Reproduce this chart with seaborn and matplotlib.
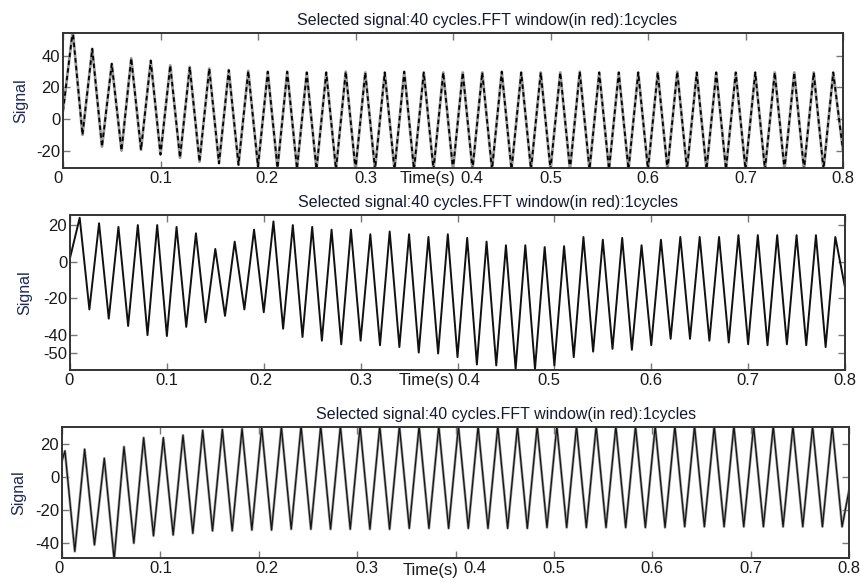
import numpy as np
import pandas as pd
import seaborn as sns
import matplotlib.pyplot as plt
from matplotlib.transforms import ScaledTranslation

# ---------------- data ----------------
title_text = "Selected signal:40 cycles.FFT window(in red):1cycles"
x_ticks = [0, 0.1, 0.2, 0.3, 0.4, 0.5, 0.6, 0.7, 0.8]
x_tick_labels = ["0", "0.1", "0.2", "0.3", "0.4", "0.5", "0.6", "0.7", "0.8"]

# times of local maxima / minima (s)
peak_t_12 = [0.01, 0.03, 0.05, 0.07, 0.09, 0.11, 0.13, 0.15, 0.17, 0.19,
             0.21, 0.23, 0.25, 0.27, 0.29, 0.31, 0.33, 0.35, 0.37, 0.39,
             0.41, 0.43, 0.45, 0.47, 0.49, 0.51, 0.53, 0.55, 0.57, 0.59,
             0.61, 0.63, 0.65, 0.67, 0.69, 0.71, 0.73, 0.75, 0.77, 0.79]
trough_t_12 = [0.02, 0.04, 0.06, 0.08, 0.10, 0.12, 0.14, 0.16, 0.18, 0.20,
               0.22, 0.24, 0.26, 0.28, 0.30, 0.32, 0.34, 0.36, 0.38, 0.40,
               0.42, 0.44, 0.46, 0.48, 0.50, 0.52, 0.54, 0.56, 0.58, 0.60,
               0.62, 0.64, 0.66, 0.68, 0.70, 0.72, 0.74, 0.76, 0.78, 0.80]
peak_t_3 = [0.003, 0.023, 0.043, 0.063, 0.083, 0.103, 0.123, 0.143, 0.163, 0.183,
            0.203, 0.223, 0.243, 0.263, 0.283, 0.303, 0.323, 0.343, 0.363, 0.383,
            0.403, 0.423, 0.443, 0.463, 0.483, 0.503, 0.523, 0.543, 0.563, 0.583,
            0.603, 0.623, 0.643, 0.663, 0.683, 0.703, 0.723, 0.743, 0.763, 0.783]
trough_t_3 = [0.013, 0.033, 0.053, 0.073, 0.093, 0.113, 0.133, 0.153, 0.173, 0.193,
              0.213, 0.233, 0.253, 0.273, 0.293, 0.313, 0.333, 0.353, 0.373, 0.393,
              0.413, 0.433, 0.453, 0.473, 0.493, 0.513, 0.533, 0.553, 0.573, 0.593,
              0.613, 0.633, 0.653, 0.673, 0.693, 0.713, 0.733, 0.753, 0.773, 0.793]

# panel 1
start_1 = 5
peaks_1 = [56, 44.5, 35, 38.5, 37, 34, 33, 32, 31, 30.5,
           30, 30, 29.5, 29.5, 30, 29.5, 29.5, 30, 29.5, 29.5,
           29.5, 29.5, 30, 29.5, 29.5, 29.5, 30, 29.5, 29.5, 29.5,
           29.5, 30, 29.5, 29.5, 29.5, 29.5, 29.5, 29.5, 29.5, 29.5]
troughs_1 = [-10, -17.5, -20, -19.5, -22.5, -24.5, -27, -28, -29, -30,
             -31, -31.5, -32, -32, -32, -32, -32, -32, -32, -32,
             -32, -32, -32, -32, -32, -32, -32, -32, -32, -32,
             -32, -32, -32, -32, -32, -32, -32, -32, -32, -20]

# panel 2
start_2 = 2
peaks_2 = [24, 21, 19, 20, 20, 19, 15.5, 7, 11, 17.5,
           22, 20, 19, 17.5, 17.5, 15, 16.5, 15, 13.5, 15,
           13, 11, 9, 9, 8, 8.5, 13.5, 12, 13, 9,
           12, 13.5, 13.5, 13.5, 14.5, 14.5, 14.5, 14.5, 14.5, 13.5]
troughs_2 = [-26, -31, -35, -40, -40.5, -35.5, -33, -29.5, -26, -27.5,
             -36.5, -41, -43, -45, -43, -45.5, -46.5, -49.5, -50, -52,
             -56, -56.5, -58.5, -58.5, -56.5, -52, -49, -47.5, -48, -45.5,
             -42, -42, -43, -44, -45, -45.5, -45, -45.5, -46.5, -14]

# panel 3
start_3 = 10
peaks_3 = [16, 17, 11.5, 18.5, 24, 24, 25.5, 28.5, 29, 29.5,
           30, 30.5, 31, 31, 31, 31, 31, 31, 31, 31,
           31, 31, 31, 31, 31, 31, 31, 31, 31, 31,
           31, 31, 31, 31, 31, 31, 31, 31, 31, 31]
troughs_3 = [-45, -41, -50, -40, -35.5, -35, -34, -32.5, -32.5, -32,
             -32, -31.5, -31.5, -31.5, -31.5, -31.5, -31.5, -31, -31, -31,
             -31, -31, -31, -31, -30.5, -30.5, -30.5, -30.5, -30.5, -30.5,
             -30.5, -30, -30, -30, -30, -30, -30, -30, -30, -30]
end_3 = -8


def build(start, pk_t, pk, tr_t, tr, end=None):
    t = [0.0]
    v = [start]
    for a, b, c, d in zip(pk_t, pk, tr_t, tr):
        t += [a, c]
        v += [b, d]
    if end is not None:
        t.append(0.8)
        v.append(end)
    return pd.DataFrame({"t": t, "v": v})


df1 = build(start_1, peak_t_12, peaks_1, trough_t_12, troughs_1)
df2 = build(start_2, peak_t_12, peaks_2, trough_t_12, troughs_2)
df3 = build(start_3, peak_t_3, peaks_3, trough_t_3, troughs_3, end_3)

# ---------------- figure ----------------
sns.set_theme(style="white")
plt.rcParams["font.family"] = ["Liberation Sans", "DejaVu Sans"]
plt.rcParams["lines.solid_joinstyle"] = "round"
plt.rcParams["lines.dash_joinstyle"] = "round"

W, H = 862, 580
fig = plt.figure(figsize=(W / 100, H / 100), dpi=100)
fig.patch.set_facecolor("white")


def px_axes(l, r, t, b):
    return fig.add_axes([l / W, 1 - b / H, (r - l) / W, (b - t) / H])


ax1 = px_axes(63, 843, 33, 168)
ax2 = px_axes(70, 845, 215, 370)
ax3 = px_axes(62, 849, 427, 558)

sns.lineplot(data=df1, x="t", y="v", ax=ax1, color="#9a9a9a", lw=2.0, sort=False)
sns.lineplot(data=df1, x="t", y="v", ax=ax1, color="black", lw=1.3, sort=False)
ax1.lines[-1].set_dashes([2.5, 1.8])
sns.lineplot(data=df2, x="t", y="v", ax=ax2, color="#111111", lw=1.4, sort=False)
sns.lineplot(data=df3, x="t", y="v", ax=ax3, color="#9a9a9a", lw=1.9, sort=False)
sns.lineplot(data=df3, x="t", y="v", ax=ax3, color="#151515", lw=0.9, sort=False)

configs = [
    (ax1, (-31, 54.5), [-20, 0, 20, 40], 0.544, {0: -5, 2: 9, 3: 10, 4: 19},
     (0.467, -0.08), -0.044),
    (ax2, (-59, 25.5), [-50, -40, -20, 0, 20], 0.539, {0: -1, 2: -3, 4: 11, 5: -5},
     (0.460, -0.065), -0.049),
    (ax3, (-49, 30.5), [-40, -20, 0, 20], 0.564, {0: -3, 2: 8, 3: 10, 4: 19},
     (0.468, -0.095), -0.046),
]

for ax, ylim, yt, tx, offs, lab_xy, ylab_x in configs:
    ax.set_xlim(0, 0.8)
    ax.set_ylim(*ylim)
    ax.set_xticks(x_ticks)
    ax.set_xticklabels(x_tick_labels)
    ax.set_yticks(yt)
    ax.set_yticklabels([str(v) for v in yt])
    ax.tick_params(axis="both", direction="in", length=5, width=1, color="#777777",
                   labelsize=12, labelcolor="#1a1a1a", pad=2,
                   top=True, right=True, bottom=True, left=True)
    for s in ax.spines.values():
        s.set_visible(True)
        s.set_color("#333333")
        s.set_linewidth(1.4)
    ax.set_ylabel("Signal", fontsize=11.5, color="#1f2a55")
    ax.yaxis.set_label_coords(ylab_x, 0.5)
    ax.set_xlabel("Time(s)", fontsize=12, color="#1a1a1a")
    ax.xaxis.set_label_coords(*lab_xy)
    ax.xaxis.label.set_va("center")
    ax.set_title(title_text, fontsize=11.5, color="#141a30", x=tx, pad=6)
    for i, lab in enumerate(ax.get_xticklabels()):
        if i in offs:
            lab.set_transform(lab.get_transform() +
                              ScaledTranslation(offs[i] / 100, 0, fig.dpi_scale_trans))
    ax.grid(False)

fig.savefig("out.png", dpi=100, facecolor="white")
